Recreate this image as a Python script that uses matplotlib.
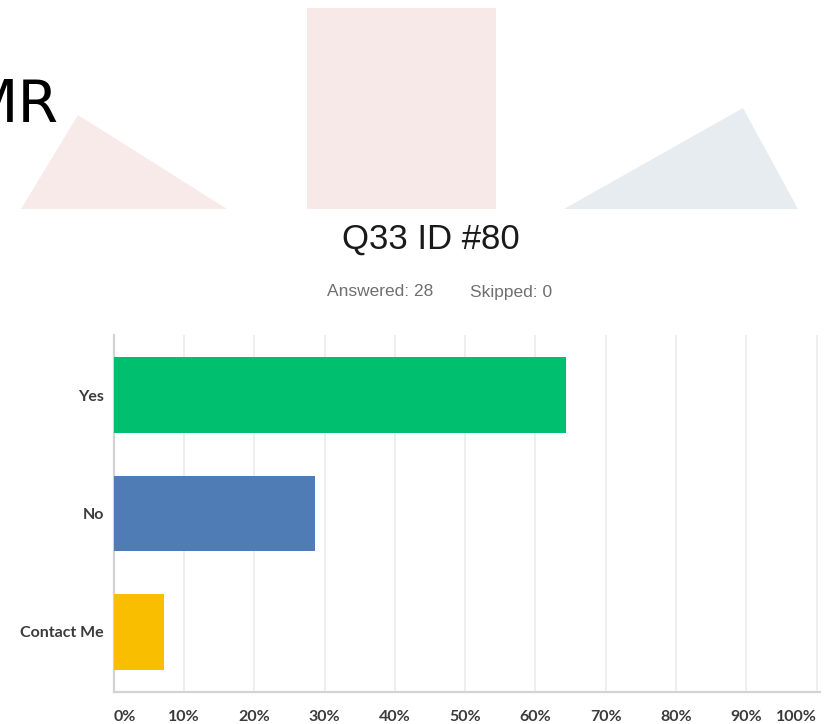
import matplotlib
matplotlib.use('Agg')
from matplotlib import pyplot as plt
from matplotlib.patches import Polygon, Rectangle

plt.rcParams['font.family'] = ['Liberation Sans', 'DejaVu Sans']

# survey data (28 answered)
categories = ['Yes', 'No', 'Contact Me']
percents = [64.29, 28.57, 7.14]
bar_colors = ['#00BF6F', '#507CB6', '#F9BE00']
xticks = [0, 10, 20, 30, 40, 50, 60, 70, 80, 90, 100]
xtick_labels = ['0%', '10%', '20%', '30%', '40%', '50%', '60%', '70%', '80%', '90%', '100%']

W, H = 825, 724
fig = plt.figure(figsize=(W / 100, H / 100), dpi=100)
fig.patch.set_facecolor('white')

# slide background layer in pixel coordinates
bg = fig.add_axes([0, 0, 1, 1])
bg.set_xlim(0, W)
bg.set_ylim(H, 0)
bg.axis('off')
bg.add_patch(Polygon([(21, 209), (78, 115), (227, 209)], closed=True, fc='#F9EAEA', ec='none'))
bg.add_patch(Rectangle((307, 8), 189, 201, fc='#F8E9E9', ec='none'))
bg.add_patch(Polygon([(564, 209), (743, 108), (798, 209)], closed=True, fc='#E7ECF0', ec='none'))
bg.text(58, 122, 'MR', ha='right', va='baseline', fontsize=42, color='black',
        family=['Liberation Sans Narrow', 'DejaVu Sans'])

# titles
bg.text(431, 239, 'Q33 ID #80', ha='center', va='center', fontsize=25, color='#1a1a1a')
bg.text(327, 292, 'Answered: 28', ha='left', va='center', fontsize=12.5, color='#6f6f6f')
bg.text(470, 292, 'Skipped: 0', ha='left', va='center', fontsize=12.5, color='#6f6f6f')

# chart
x0, x1, y0, y1 = 113.7, 820, 335, 692
ax = fig.add_axes([x0 / W, (H - y1) / H, (x1 - x0) / W, (y1 - y0) / H])
ax.set_facecolor('none')
pos = range(len(categories))
ax.barh(pos, percents, height=0.64, color=bar_colors, zorder=3)
ax.set_ylim(2.51, -0.51)
ax.set_xlim(0, 100 * (x1 - x0) / 703)

ax.set_xticks(xticks)
ax.set_xticklabels(xtick_labels, fontsize=11.5, fontweight='bold', color='#3b3b3b',
                   family=['Lato', 'DejaVu Sans'])
labs = ax.get_xticklabels()
labs[0].set_ha('left')
labs[-1].set_ha('right')
ax.set_yticks(list(pos))
ax.set_yticklabels(categories, fontsize=11.5, fontweight='bold', color='#3b3b3b',
                   family=['Lato', 'DejaVu Sans'])
ax.tick_params(axis='both', length=0)
ax.tick_params(axis='x', pad=13)
ax.tick_params(axis='y', pad=7)

ax.grid(axis='x', color='#EBEBEB', linewidth=1.2, zorder=0)
for s in ['top', 'right']:
    ax.spines[s].set_visible(False)
for s in ['left', 'bottom']:
    ax.spines[s].set_color('#D3D3D3')
    ax.spines[s].set_linewidth(1.6)

plt.savefig('out.png', dpi=100)
